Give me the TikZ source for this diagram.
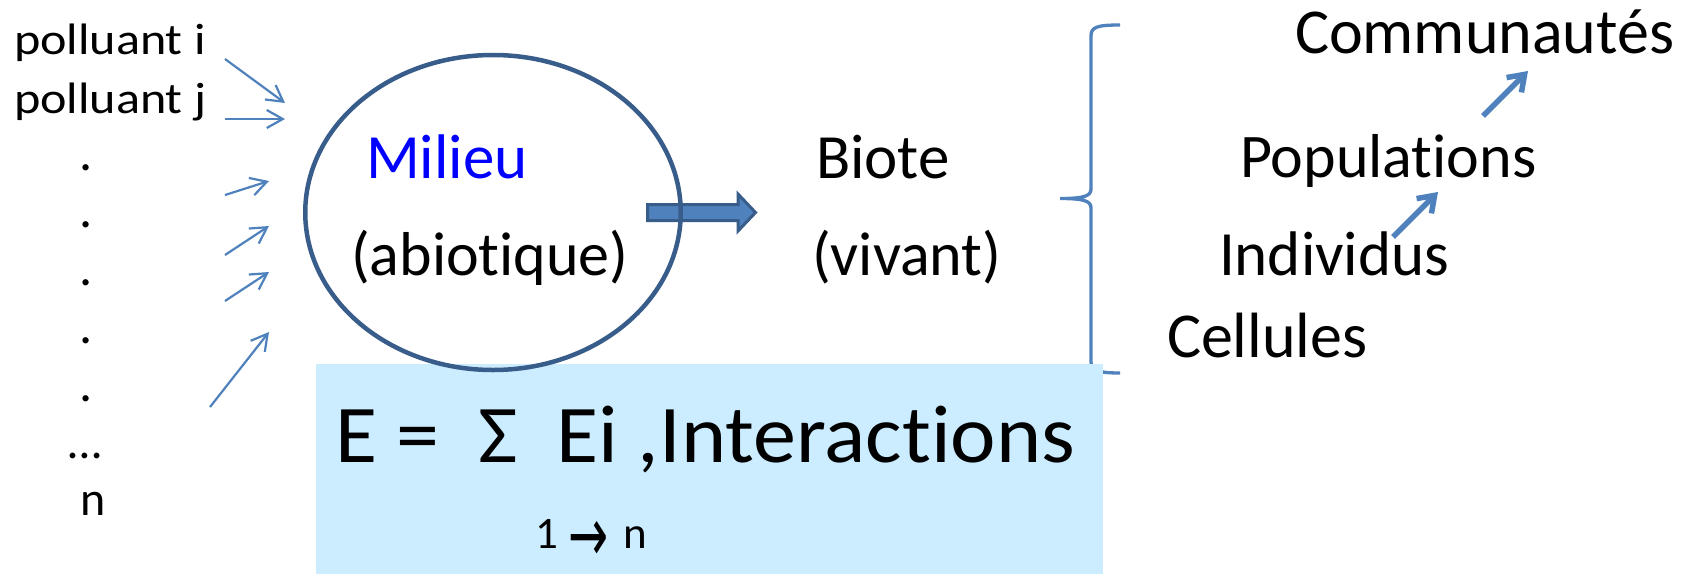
\documentclass[tikz,border=0pt]{standalone}
\usepackage{fontspec}
\setmainfont{Carlito}[Ligatures={NoCommon,NoContextual},Contextuals={NoAlternate}]
\newfontfamily\djv{DejaVu Sans}
\usepackage{graphicx}
\usetikzlibrary{arrows.meta,shapes.geometric}
\definecolor{outl}{HTML}{385D8A}
\definecolor{accent}{HTML}{4F81BD}
\definecolor{boxfill}{HTML}{CCECFF}
\definecolor{milblue}{HTML}{0000FF}
\newcommand{\fsz}[1]{\fontsize{#1}{#1}\selectfont}
\newcommand{\tI}{t\kern0pt i}
\begin{document}
\begin{tikzpicture}[x=1pt,y=-1pt,
  lbl/.style={anchor=base west,inner sep=0pt,outer sep=0pt},
  dotlbl/.style={anchor=base,inner sep=0pt,outer sep=0pt},
  thinarrow/.style={draw=accent,line width=2.2pt,-{Straight Barb[length=16pt,width=18pt]}},
  thickarrow/.style={draw=accent,line width=5.5pt,-{Straight Barb[length=15pt,width=21pt]}},
  bracestyle/.style={draw=accent,line width=3.3pt},
  blockarrow/.style={fill=accent,draw=outl,line width=3pt,line join=miter},
]
\useasboundingbox (0,0) rectangle (1694,574);

% brace
\draw[bracestyle] (1120,25) .. controls (1097,25) and (1091,27) .. (1091,36)
  -- (1091,189) .. controls (1091,196) and (1084,198.5) .. (1060,198.5)
  .. controls (1084,198.5) and (1091,201) .. (1091,208)
  -- (1091,362) .. controls (1091,370) and (1097,373) .. (1120,373);

% light blue box
\fill[boxfill] (316,364) rectangle (1103,574);

% block arrow
\draw[blockarrow] (647.5,204.5) -- (738,204.5) -- (738,194) -- (755.5,212.5)
  -- (738,231) -- (738,220.5) -- (647.5,220.5) -- cycle;

% ellipse
\node[draw=outl,line width=4.5pt,ellipse,minimum width=375.5pt,minimum height=315pt,inner sep=0pt] (milieu) at (493,212.5) {};

% left texts
\node[lbl] (pi) at (14,54) {\fsz{44}\scalebox{1.14}[1]{polluant i}};
\node[lbl] (pj) at (14,113) {\fsz{44}\scalebox{1.14}[1]{polluant j}};
\node[dotlbl] (d1) at (86,170) {\fsz{52}.};
\node[dotlbl] (d2) at (86,227) {\fsz{52}.};
\node[dotlbl] (d3) at (86,285) {\fsz{52}.};
\node[dotlbl] (d4) at (86,343) {\fsz{52}.};
\node[dotlbl] (d5) at (86,401) {\fsz{52}.};
\node[dotlbl] (d6) at (85,458) {\fsz{48}…};
\node[lbl] (nn) at (80,515) {\fsz{48}n};

% thin arrows
\coordinate (s1) at (225,59);  \coordinate (e1) at (285,103);
\coordinate (s2) at (225,119); \coordinate (e2) at (285,119);
\coordinate (s3) at (225,195); \coordinate (e3) at (269,181);
\coordinate (s4) at (225,255); \coordinate (e4) at (269,226);
\coordinate (s5) at (225,301); \coordinate (e5) at (269,272);
\coordinate (s6) at (210,407); \coordinate (e6) at (269,332);
\foreach \i in {1,...,6} {\draw[thinarrow] (s\i) -- (e\i);}

% ellipse texts
\node[lbl,text=milblue] (mil) at (366,178) {\fsz{63}Milieu};
\node[lbl] (abio) at (351,275) {\fsz{62}(abio\tI que)};

% biote
\node[lbl] (biote) at (816,178) {\fsz{63}Biote};
\node[lbl] (vivant) at (812,275) {\fsz{62}(vivant)};

% levels
\node[lbl] (comm) at (1295,53) {\fsz{64}Communautés};
\node[lbl] (pop) at (1240,177) {\fsz{62}Popula\tI ons};
\node[lbl] (ind) at (1219,275) {\fsz{63}Individus};
\node[lbl] (cel) at (1167,357) {\fsz{64}Cellules};

\coordinate (u1) at (1483,116); \coordinate (u2) at (1528,71);
\coordinate (l1) at (1393,237); \coordinate (l2) at (1438,192);
\draw[thickarrow] (u1) -- (u2);
\draw[thickarrow] (l1) -- (l2);

% formula
\node[lbl] (form) at (335,462) {\fsz{82}\scalebox{1.05}[1]{E =~~Σ~~Ei ,Interac\tI ons}};
\node[lbl] (sub) at (535,548) {\fsz{45}1\hspace{11pt}\raisebox{-13pt}{\djv\fontsize{76}{76}\selectfont\scalebox{0.63}[1]{→}}\hspace{15pt}n};
\end{tikzpicture}
\end{document}
